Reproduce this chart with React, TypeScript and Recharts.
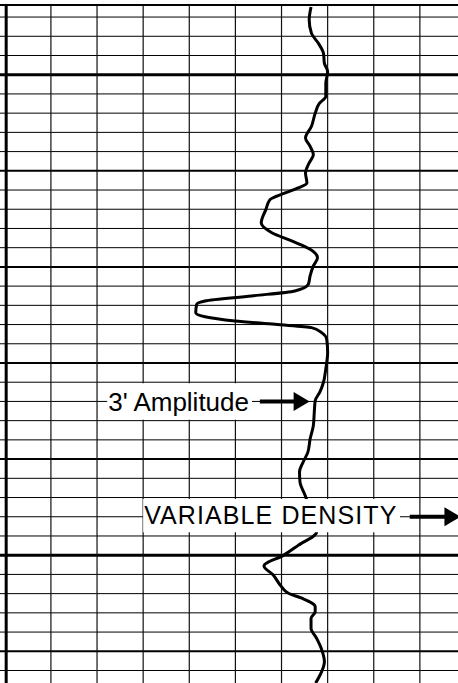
import { LineChart, Line, XAxis, YAxis, ReferenceLine, ReferenceArea } from "recharts";

// log depth in grid rows (one row per horizontal line), amplitude in grid columns
const depth = [
  -3.52, -2.85, -2.15, -1.63, -1.11, -0.59, -0.16, 0.45, 1.14, 1.49, 2.01, 2.68, 3.29,
  3.73, 4.16, 4.59, 5.11, 5.63, 5.89, 6.15, 6.5, 7.02, 7.72, 8.22, 8.65, 9.08, 9.52,
  9.95, 10.47, 10.91, 11.25, 11.51, 11.77, 11.95, 12.38, 12.59, 12.81, 12.99, 13.16,
  13.42, 13.77, 14.44, 15.31, 16.0, 16.52, 16.96, 17.57, 18.26, 18.95, 19.65, 20.15,
  20.67, 21.19, 21.88, 22.75, 23.79, 24.49, 25.01, 25.56, 26.03, 26.64, 26.98, 27.24,
  27.68, 27.94, 28.28, 28.8, 29.32, 29.84, 30.54, 31.06, 31.65,
];
const amplitude = [
  6.64, 6.6, 6.65, 6.8, 6.91, 6.93, 7.0, 6.96, 6.96, 6.82, 6.73, 6.65, 6.52,
  6.62, 6.69, 6.6, 6.52, 6.55, 6.36, 6.08, 5.75, 5.66, 5.56, 5.79, 6.22, 6.62, 6.78,
  6.69, 6.62, 6.58, 6.29, 5.35, 4.34, 4.16, 4.14, 4.34, 4.99, 5.86, 6.65,
  6.87, 6.98, 7.0, 6.96, 6.91, 6.83, 6.73, 6.71, 6.69, 6.62, 6.57, 6.47,
  6.39, 6.4, 6.51, 6.64, 6.76, 6.36, 6.04, 5.62, 5.82, 6.0, 6.15, 6.44,
  6.73, 6.73, 6.64, 6.64, 6.76, 6.86, 6.93, 6.87, 6.74,
];
const logData = depth.map((d, i) => ({ depth: d, amp: amplitude[i] }));

const gridColumns = [1, 2, 3, 4, 5, 6, 7, 8, 9];
const gridRows = [
  -3, -2, -1, 0, 1, 2, 3, 4, 5, 6, 7, 8, 9, 10, 11, 12, 13, 14, 15, 16, 17, 18, 19,
  20, 21, 22, 23, 24, 25, 26, 27, 28, 29, 30, 31,
];
const mediumRows = [5, 10, 15, 20, 30];
const heavyRows = [0, 25];

const xDomain = [-0.104, 10];
const yDomain = [-3.887, 31.65];
const topEdge = -3.63;
const leftEdge = 0.03;

const labels = [
  { text: "3' Amplitude", x1: 2.22, x2: 5.36, y1: 16.06, y2: 17.95, from: 5.53, to: 6.61, row: 17, size: 26, spacing: 0 },
  { text: "VARIABLE DENSITY", x1: 3.0, x2: 8.57, y1: 22.08, y2: 23.8, from: 8.78, to: 9.88, row: 23, size: 25, spacing: 1.1 },
];

const font = "'Liberation Sans', Arial, sans-serif";

const Arrow = (props: any) => {
  const { x1, y1, x2 } = props;
  const head = 16;
  return (
    <g>
      <line x1={x1} y1={y1} x2={x2 - head + 1} y2={y1} stroke="#000" strokeWidth={4} />
      <polygon points={`${x2},${y1} ${x2 - head},${y1 - 9.5} ${x2 - head},${y1 + 9.5}`} fill="#000" />
    </g>
  );
};

export default function App() {
  return (
    <div
      style={{
        position: "absolute",
        left: 0,
        top: 0,
        width: 458,
        height: 683,
        overflow: "hidden",
        background: "#fff",
      }}
    >
      <LineChart
        width={466}
        height={683}
        data={logData}
        layout="vertical"
        margin={{ top: 0, right: 0, bottom: 0, left: 0 }}
      >
        <XAxis type="number" domain={xDomain} allowDataOverflow hide />
        <YAxis type="number" dataKey="depth" domain={yDomain} allowDataOverflow hide />

        {gridRows.map((r) => (
          <ReferenceLine
            key={`row-${r}`}
            y={r}
            stroke="#000"
            strokeWidth={heavyRows.includes(r) ? 3 : mediumRows.includes(r) ? 2 : 1}
            zIndex={300}
          />
        ))}
        {gridColumns.map((c) => (
          <ReferenceLine
            key={`col-${c}`}
            segment={[
              { x: c, y: topEdge },
              { x: c, y: yDomain[1] },
            ]}
            stroke="#111"
            strokeWidth={1.2}
            zIndex={300}
          />
        ))}
        <ReferenceLine
          segment={[
            { x: leftEdge, y: topEdge },
            { x: leftEdge, y: yDomain[1] },
          ]}
          stroke="#000"
          strokeWidth={3}
          zIndex={300}
        />
        <ReferenceLine y={topEdge} stroke="#000" strokeWidth={2} zIndex={300} />

        <Line
          type="monotone"
          dataKey="amp"
          stroke="#000"
          strokeWidth={3}
          dot={false}
          activeDot={false}
          isAnimationActive={false}
          zIndex={400}
        />

        {labels.map((l) => (
          <ReferenceArea
            key={l.text}
            x1={l.x1}
            x2={l.x2}
            y1={l.y1}
            y2={l.y2}
            fill="#fff"
            fillOpacity={1}
            stroke="none"
            zIndex={500}
            label={{
              value: l.text,
              position: "insideLeft",
              offset: 1,
              fontSize: l.size,
              fill: "#000",
              fontFamily: font,
              letterSpacing: l.spacing,
            }}
          />
        ))}
        {labels.map((l) => (
          <ReferenceLine
            key={`arrow-${l.text}`}
            segment={[
              { x: l.from, y: l.row },
              { x: l.to, y: l.row },
            ]}
            shape={Arrow}
            zIndex={600}
          />
        ))}
      </LineChart>
    </div>
  );
}
